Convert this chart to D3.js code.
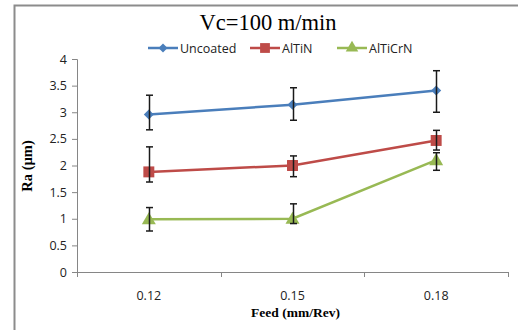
<!DOCTYPE html>
<html>
<head>
<meta charset="utf-8">
<script src="https://cdn.jsdelivr.net/npm/d3@7"></script>
<style>
  body { margin: 0; background: #fff; }
  svg { display: block; }
</style>
</head>
<body>
<div id="chart"></div>
<script>
// chart values
var feeds = ["0.12", "0.15", "0.18"];
var seriesNames = ["Uncoated", "AlTiN", "AlTiCrN"];
var uncoated = [2.96, 3.14, 3.41];
var uncoatedLow = [2.67, 2.85, 3.00];
var uncoatedHigh = [3.32, 3.46, 3.78];
var altin = [1.88, 2.00, 2.47];
var altinLow = [1.69, 1.79, 2.29];
var altinHigh = [2.35, 2.18, 2.66];
var altiCrN = [0.99, 1.00, 2.10];
var altiCrNLow = [0.77, 0.91, 1.91];
var altiCrNHigh = [1.21, 1.28, 2.24];
var yTicks = [0, 0.5, 1, 1.5, 2, 2.5, 3, 3.5, 4];

var svgWidth = 518;
var svgHeight = 330;
var margin = { top: 59, right: 10, bottom: 58, left: 77 };
var chartWidth = 508 - margin.left;
var chartHeight = 272 - margin.top;

var colors = ["#4A7EBB", "#BE4B48", "#98B954"];
var symbols = [d3.symbolSquare, d3.symbolSquare, d3.symbolTriangle];
var symSizes = [50, 120, 85];
var symRotate = [45, 0, 0];

var series = [
    { name: seriesNames[0], vals: uncoated, lo: uncoatedLow, hi: uncoatedHigh },
    { name: seriesNames[1], vals: altin, lo: altinLow, hi: altinHigh },
    { name: seriesNames[2], vals: altiCrN, lo: altiCrNLow, hi: altiCrNHigh }
];

var svg = d3.select("#chart").append("svg")
            .attr("width", svgWidth)
            .attr("height", svgHeight);

// outer frame (left + top only visible)
svg.append("path")
   .attr("d", "M14.5,330 L14.5,5.5 L518,5.5")
   .attr("fill", "none")
   .attr("stroke", "#8c8c8c")
   .attr("stroke-width", 2);

var chartGroup = svg.append("g")
                    .attr("transform", `translate(${margin.left}, ${margin.top})`);

var xScale = d3.scaleBand()
               .domain(feeds)
               .range([0, chartWidth]);

var yScale = d3.scaleLinear()
               .domain([0, 4])
               .range([chartHeight, 0]);

// y axis
var leftAxis = d3.axisLeft(yScale).tickValues(yTicks).tickSize(5).tickPadding(5)
                 .tickFormat(d3.format("~g"));
var yAxisG = chartGroup.append("g").call(leftAxis);
yAxisG.selectAll("path, line").attr("stroke", "#868686");
yAxisG.selectAll("text").style("font-family", "'Open Sans', sans-serif")
      .style("font-size", "12.5px").attr("fill", "#222");

// x axis (ticks at band edges)
var xAxisG = chartGroup.append("g")
                       .attr("transform", `translate(0, ${chartHeight})`);
xAxisG.append("line")
      .attr("x1", 0).attr("x2", chartWidth)
      .attr("y1", 0.5).attr("y2", 0.5)
      .attr("stroke", "#868686");
var edges = feeds.map(f => xScale(f)).concat([chartWidth]);
xAxisG.selectAll("line.tk").data(edges).enter().append("line")
      .attr("class", "tk")
      .attr("x1", d => Math.round(d) + 0.5).attr("x2", d => Math.round(d) + 0.5)
      .attr("y1", 0).attr("y2", 5)
      .attr("stroke", "#868686");
xAxisG.selectAll("text").data(feeds).enter().append("text")
      .attr("x", d => xScale(d) + xScale.bandwidth() / 2)
      .attr("y", 28)
      .attr("text-anchor", "middle")
      .style("font-family", "'Open Sans', sans-serif")
      .style("font-size", "12.5px")
      .attr("fill", "#222")
      .text(d => d);

var cx = d => xScale(d) + xScale.bandwidth() / 2;

// lines
var line = d3.line()
             .x((v, i) => cx(feeds[i]))
             .y(v => yScale(v));

series.forEach((s, k) => {
    chartGroup.append("path")
              .datum(s.vals)
              .attr("d", line)
              .attr("fill", "none")
              .attr("stroke", colors[k])
              .attr("stroke-width", 2.5);
});

// markers
series.forEach((s, k) => {
    chartGroup.selectAll("path.m" + k).data(s.vals).enter().append("path")
              .attr("class", "m" + k)
              .attr("transform", (v, i) => `translate(${cx(feeds[i])}, ${yScale(v) + (k == 2 ? 1 : 0)}) rotate(${symRotate[k]})`)
              .attr("d", d3.symbol().type(symbols[k]).size(symSizes[k]))
              .attr("fill", colors[k]);
});

// error bars
series.forEach((s, k) => {
    s.vals.forEach((v, i) => {
        var x = Math.round(cx(feeds[i])) + 0.5;
        var eb = chartGroup.append("g").attr("stroke", "#1a1a1a").attr("stroke-width", 1.5);
        eb.append("line").attr("x1", x).attr("x2", x)
          .attr("y1", yScale(s.hi[i])).attr("y2", yScale(s.lo[i]));
        [s.hi[i], s.lo[i]].forEach(e => {
            eb.append("line").attr("x1", x - 3.5).attr("x2", x + 3.5)
              .attr("y1", yScale(e)).attr("y2", yScale(e));
        });
    });
});

// title
svg.append("text")
   .attr("x", 268)
   .attr("y", 30)
   .attr("text-anchor", "middle")
   .style("font-family", "'Liberation Serif', serif")
   .style("font-size", "22.5px")
   .attr("fill", "#000")
   .text("Vc=100 m/min");

// legend
var legendX = [148, 250, 337];
series.forEach((s, k) => {
    var g = svg.append("g").attr("transform", `translate(${legendX[k]}, 48)`);
    g.append("line").attr("x1", 0).attr("x2", 30).attr("y1", 0).attr("y2", 0)
     .attr("stroke", colors[k]).attr("stroke-width", 2.5);
    g.append("path").attr("transform", `translate(15, 0) rotate(${symRotate[k]})`)
     .attr("d", d3.symbol().type(symbols[k]).size(symSizes[k] * 0.8))
     .attr("fill", colors[k]);
    g.append("text").attr("x", 32).attr("y", 4.5)
     .style("font-family", "'Open Sans', sans-serif")
     .style("font-size", "12.5px")
     .attr("fill", "#222")
     .text(s.name);
});

// axis labels
svg.append("text")
   .attr("transform", "rotate(-90)")
   .attr("x", -166)
   .attr("y", 32)
   .attr("text-anchor", "middle")
   .style("font-family", "'Liberation Serif', serif")
   .style("font-weight", "bold")
   .style("font-size", "14.5px")
   .text("Ra (\u00b5m)");

svg.append("text")
   .attr("x", 295.5)
   .attr("y", 317)
   .attr("text-anchor", "middle")
   .style("font-family", "'Liberation Serif', serif")
   .style("font-weight", "bold")
   .style("font-size", "13.5px")
   .text("Feed (mm/Rev)");
</script>
</body>
</html>
